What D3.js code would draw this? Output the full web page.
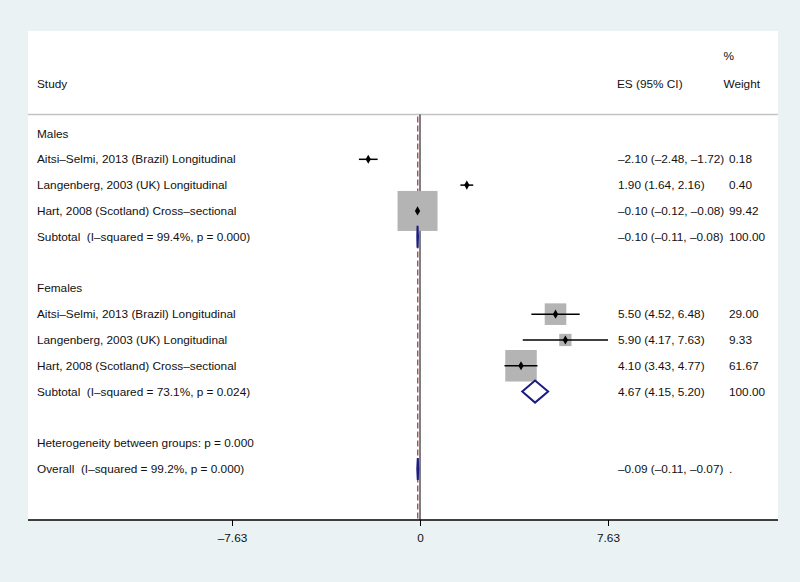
<!DOCTYPE html>
<html>
<head>
<meta charset="utf-8">
<script src="https://cdn.jsdelivr.net/npm/d3@7"></script>
<style>
  html, body { margin: 0; padding: 0; background: #eaf2f3; }
  svg { display: block; }
  text { font-family: "Liberation Sans", Arial, Helvetica, sans-serif; font-size: 11.8px; fill: #111; white-space: pre; }
</style>
</head>
<body>
<svg id="chart" width="800" height="582"></svg>
<script>
// ---------------- data ----------------
const rowLabels = [
  "Males",
  "Aitsi–Selmi, 2013 (Brazil) Longitudinal",
  "Langenberg, 2003 (UK) Longitudinal",
  "Hart, 2008 (Scotland) Cross–sectional",
  "Subtotal  (I–squared = 99.4%, p = 0.000)",
  "",
  "Females",
  "Aitsi–Selmi, 2013 (Brazil) Longitudinal",
  "Langenberg, 2003 (UK) Longitudinal",
  "Hart, 2008 (Scotland) Cross–sectional",
  "Subtotal  (I–squared = 73.1%, p = 0.024)",
  "",
  "Heterogeneity between groups: p = 0.000",
  "Overall  (I–squared = 99.2%, p = 0.000)"
];
const rowTypes = ["head","study","study","study","pooled","blank","head","study","study","study","pooled","blank","note","pooled"];
const esValues = [null, -2.10, 1.90, -0.10, -0.10, null, null, 5.50, 5.90, 4.10, 4.67, null, null, -0.09];
const ciLow    = [null, -2.48, 1.64, -0.12, -0.11, null, null, 4.52, 4.17, 3.43, 4.15, null, null, -0.11];
const ciHigh   = [null, -1.72, 2.16, -0.08, -0.08, null, null, 6.48, 7.63, 4.77, 5.20, null, null, -0.07];
const weights  = [null, 0.18, 0.40, 99.42, 100.00, null, null, 29.00, 9.33, 61.67, 100.00, null, null, null];
const esTexts  = ["", "–2.10 (–2.48, –1.72)", "1.90 (1.64, 2.16)", "–0.10 (–0.12, –0.08)", "–0.10 (–0.11, –0.08)", "", "",
                  "5.50 (4.52, 6.48)", "5.90 (4.17, 7.63)", "4.10 (3.43, 4.77)", "4.67 (4.15, 5.20)", "", "", "–0.09 (–0.11, –0.07)"];
const weightTexts = ["", "0.18", "0.40", "99.42", "100.00", "", "", "29.00", "9.33", "61.67", "100.00", "", "", "."];
const overallES = -0.09;
const tickValues = [-7.63, 0, 7.63];
const tickLabels = ["–7.63", "0", "7.63"];

// ---------------- layout ----------------
const svg = d3.select("#chart");
const plot = { left: 28, right: 778, top: 31, bottom: 520, header: 114.5 };

svg.append("rect").attr("x", 0).attr("y", 0).attr("width", 800).attr("height", 582).attr("fill", "#eaf2f3");
svg.append("rect").attr("x", plot.left).attr("y", plot.top)
  .attr("width", plot.right - plot.left).attr("height", plot.bottom - plot.top).attr("fill", "#ffffff");

const x = d3.scaleLinear().domain([-7.63, 7.63]).range([232, 608]);
const y = d3.scalePoint().domain(d3.range(rowLabels.length)).range([133.5, 469]);
const boxSize = d3.scaleSqrt().domain([0, 99.42]).range([0, 40]);

// header
svg.append("text").attr("x", 37).attr("y", 88).text("Study");
svg.append("text").attr("x", 617).attr("y", 88).text("ES (95% CI)");
svg.append("text").attr("x", 723.5).attr("y", 60).text("%");
svg.append("text").attr("x", 723.5).attr("y", 88).text("Weight");

svg.append("line").attr("x1", plot.left).attr("x2", plot.right)
  .attr("y1", plot.header).attr("y2", plot.header)
  .attr("stroke", "#c4c4c4").attr("stroke-width", 1.5);

// null line
svg.append("line").attr("x1", x(0)).attr("x2", x(0))
  .attr("y1", plot.header).attr("y2", plot.bottom)
  .attr("stroke", "#000").attr("stroke-width", 1);

// overall effect dashed line
svg.append("line").attr("x1", x(overallES)).attr("x2", x(overallES))
  .attr("y1", plot.header + 2).attr("y2", plot.bottom)
  .attr("stroke", "#8b1f2e").attr("stroke-width", 1.1).attr("stroke-dasharray", "6,3");

const idx = d3.range(rowLabels.length);

// labels
svg.append("g").selectAll("text").data(idx).join("text")
  .attr("x", 37).attr("y", i => y(i) + 4).attr("xml:space", "preserve").text(i => rowLabels[i]);
svg.append("g").selectAll("text").data(idx.filter(i => esTexts[i])).join("text")
  .attr("x", 618).attr("y", i => y(i) + 4).text(i => esTexts[i]);
svg.append("g").selectAll("text").data(idx.filter(i => weightTexts[i])).join("text")
  .attr("x", 729).attr("y", i => y(i) + 4).text(i => weightTexts[i]);

// study rows
const studies = idx.filter(i => rowTypes[i] === "study");
const g = svg.append("g");
g.selectAll("rect.box").data(studies).join("rect").attr("class", "box")
  .attr("x", i => x(esValues[i]) - boxSize(weights[i]) / 2)
  .attr("y", i => y(i) - boxSize(weights[i]) / 2)
  .attr("width", i => boxSize(weights[i]))
  .attr("height", i => boxSize(weights[i]))
  .attr("fill", "#b4b4b4");
g.selectAll("line.ci").data(studies).join("line").attr("class", "ci")
  .attr("x1", i => x(ciLow[i])).attr("x2", i => x(ciHigh[i]))
  .attr("y1", i => y(i)).attr("y2", i => y(i))
  .attr("stroke", "#000").attr("stroke-width", 1.5);
g.selectAll("path.pt").data(studies).join("path").attr("class", "pt")
  .attr("transform", i => `translate(${x(esValues[i])},${y(i)})`)
  .attr("d", d3.symbol().type(d3.symbolDiamond).size(24))
  .attr("fill", "#000");

// pooled diamonds
const pooled = idx.filter(i => rowTypes[i] === "pooled");
g.selectAll("path.dia").data(pooled).join("path").attr("class", "dia")
  .attr("d", i => {
    const yc = y(i), h = 11;
    return `M${x(ciLow[i])},${yc}L${x(esValues[i])},${yc - h}L${x(ciHigh[i])},${yc}L${x(esValues[i])},${yc + h}Z`;
  })
  .attr("fill", "none").attr("stroke", "#1c1c80").attr("stroke-width", 2)
  .attr("stroke-linejoin", "miter");

// axis
svg.append("line").attr("x1", plot.left).attr("x2", plot.right)
  .attr("y1", plot.bottom).attr("y2", plot.bottom)
  .attr("stroke", "#000").attr("stroke-width", 1.5);
const axis = d3.axisBottom(x).tickValues(tickValues)
  .tickFormat((d, i) => tickLabels[i]).tickSize(6).tickPadding(8);
const ag = svg.append("g").attr("transform", `translate(0,${plot.bottom})`).call(axis);
ag.select(".domain").remove();
ag.selectAll("line").attr("stroke", "#000").attr("stroke-width", 1);
ag.selectAll("text").attr("font-family", null).attr("font-size", null).attr("fill", "#111");
</script>
</body>
</html>
